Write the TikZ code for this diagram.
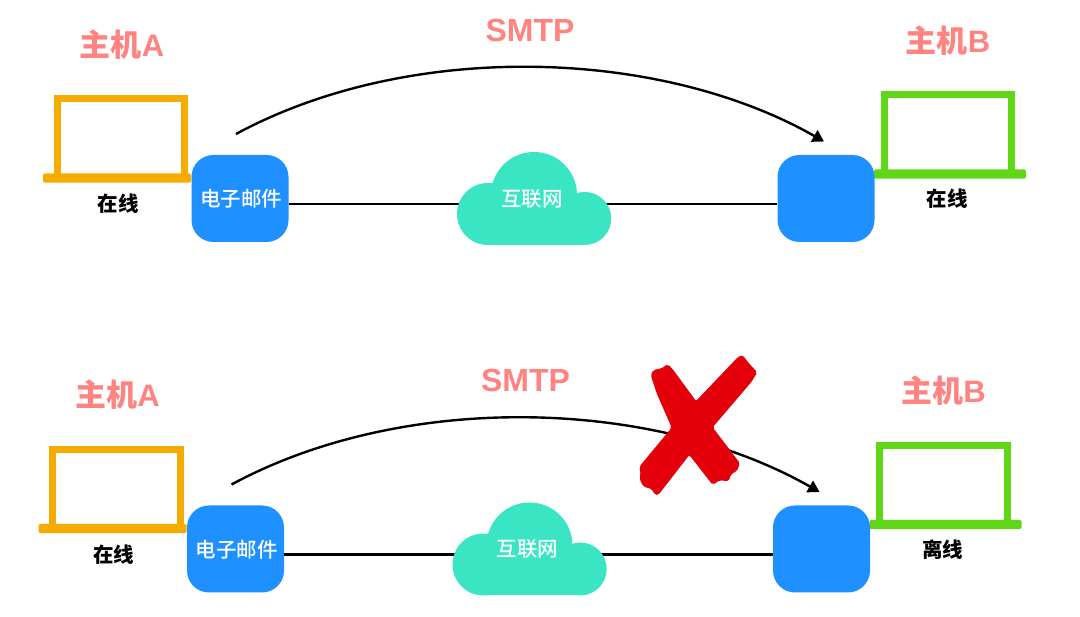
\documentclass[tikz,border=0pt]{standalone}
\usepackage{fontspec}
\setmainfont{Liberation Sans}
\newfontfamily\cjk{Noto Sans CJK SC}
\newfontfamily\cjkmed{Noto Sans CJK SC Medium}
\usetikzlibrary{arrows.meta}
\definecolor{salmon}{HTML}{FF8481}
\definecolor{mailblue}{HTML}{1E90FF}
\definecolor{cloudgreen}{HTML}{3AE5C3}
\definecolor{laporange}{HTML}{F5AB00}
\definecolor{lapgreen}{HTML}{5FD716}
\definecolor{crossred}{HTML}{E3000B}
\tikzset{
  hosttitle/.style={text=salmon,font=\fontsize{31}{34}\selectfont\bfseries,inner sep=0pt},
  proto/.style={text=salmon,font=\fontsize{32}{34}\selectfont\bfseries,inner sep=0pt},
  status/.style={text=black,font=\fontsize{20.5}{24}\selectfont\cjk\bfseries,inner sep=0pt},
  inlabel/.style={text=white,font=\fontsize{20.5}{24}\selectfont\cjkmed,inner sep=0pt},
  mailbox/.style={fill=mailblue,rounded corners=22,minimum width=97,minimum height=87,inner sep=0pt},
  screen/.style={draw=#1,line width=7,line join=miter,minimum width=127.5,minimum height=79,inner sep=0pt,outer sep=0pt},
  lapbase/.style={fill=#1,rounded corners=1.5,minimum width=148,minimum height=9.4,inner sep=0pt},
  wire/.style={draw=black,line width=2.7},
  sendarc/.style={draw=black,line width=2.4,-{Triangle[length=11.3,width=13]}},
}
\newcommand{\netrow}[5]{%
\begin{scope}[shift={(#1)}]
  \node[hosttitle] (#2titleA) at (122,44.5) {{\cjk\bfseries 主机}A};
  \node[hosttitle] (#2titleB) at (948,40.5) {{\cjk\bfseries 主机}B};
  \node[proto] (#2proto) at (530,30) {SMTP};
  % laptops
  \node[screen=laporange] (#2lapA) at (120.8,138.5) {};
  \node[lapbase=laporange] (#2baseA) at (117,178) {};
  \node[screen=lapgreen] (#2lapB) at (947.9,134.5) {};
  \node[lapbase=lapgreen,minimum width=152] (#2baseB) at (950,174) {};
  % mail agents
  \node[mailbox] (#2mail) at (240,198.5) {};
  \node[mailbox] (#2peer) at (826,198.5) {};
  \node[inlabel] at (241,199) {电子邮件};
  \coordinate (#2net) at (534,204);
  \draw[wire] (#2mail.east |- #2net) -- (#2net) -- (#2net -| #2peer.west);
  % cloud
  \fill[cloudgreen] (534,195) circle[radius=43];
  \fill[cloudgreen] (488,214) circle[radius=31];
  \fill[cloudgreen] (584.7,218.5) circle[radius=26.5];
  \fill[cloudgreen] (488,205) rectangle (584.7,245);
  \node[inlabel] (#2netlabel) at (532,198.5) {互联网};
  \node[status] (#2stA) at (118,204) {在线};
  \node[status] (#2stB) at (947,199) {#3};
  % transfer arc
  \coordinate (#2from) at (236,134);
  \coordinate (#2to) at (824,141.5);
  \draw[sendarc] (#2from) .. controls (#4) and (#5) .. (#2to);
\end{scope}}
\begin{document}
\begin{tikzpicture}[x=1pt,y=-1pt]
\useasboundingbox (0,0) rectangle (1080,617);
\fill[white] (0,0) rectangle (1080,617);
\netrow{0,0}{t}{在线}{410,40}{660,48}
\netrow{-4.5,350.5}{b}{离线}{410,40}{660,48}
\begin{scope}[shift={(620,340)},x=0.3333pt,y=-0.3333pt]
\fill[crossred,rounded corners=2] (92,105) -- (100,90) -- (125,85) -- (143,72) -- (160,90) -- (228,183) -- (355,50) -- (368,45) -- (385,68) -- (412,97) -- (395,125) -- (278,262) -- (360,370) -- (350,395) -- (335,400) -- (325,425) -- (300,420) -- (278,435) -- (208,345) -- (115,465) -- (105,465) -- (95,447) -- (70,440) -- (58,415) -- (62,405) -- (58,380) -- (155,263) -- (110,160) -- cycle;
\end{scope}
\end{tikzpicture}
\end{document}
